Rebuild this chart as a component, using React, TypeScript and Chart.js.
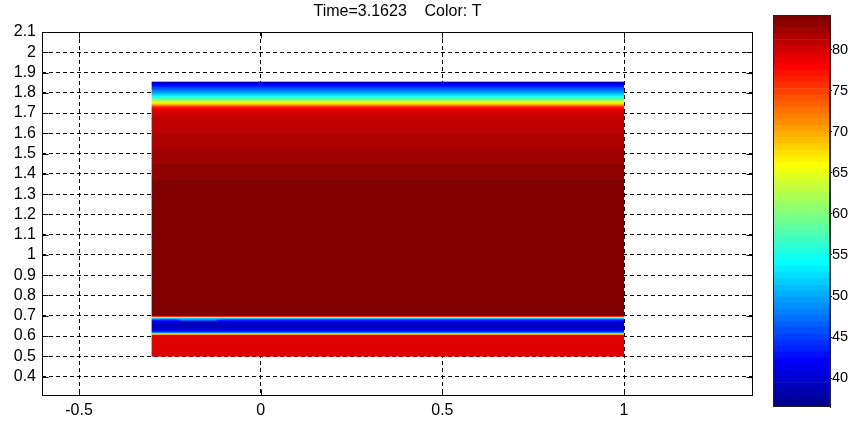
import { useEffect, useRef } from "react";
import { Chart, registerables } from "chart.js";

Chart.register(...registerables);

const FONT = "'Liberation Sans', Arial, Helvetica, sans-serif";

const TITLE = "Time=3.1623    Color: T";

// axis limits and ticks of the solution plot
const X_LIMITS = [-0.602, 1.355];
const Y_LIMITS = [0.304, 2.1];
const X_TICKS = [-0.5, 0, 0.5, 1];
const Y_TICKS = [0.4, 0.5, 0.6, 0.7, 0.8, 0.9, 1, 1.1, 1.2, 1.3, 1.4, 1.5, 1.6, 1.7, 1.8, 1.9, 2, 2.1];

// horizontal extent of the domain
const DOMAIN_X = [-0.3, 1];

// temperature T sampled along y, bottom to top
const PROFILE_Y = [
  0.5, 0.603, 0.607, 0.612, 0.618, 0.626, 0.64, 0.66, 0.675, 0.682, 0.687, 0.691, 0.695, 0.699,
  0.72, 0.9, 1.3, 1.4, 1.5, 1.6, 1.7, 1.72, 1.73, 1.74, 1.75, 1.765, 1.78, 1.8, 1.82, 1.84, 1.855,
];
const PROFILE_T = [
  79, 79, 72, 58, 47, 42, 39, 39, 42, 46, 53, 62, 72, 83.5,
  84, 84, 84, 83.2, 82.2, 81.2, 80.3, 79, 76, 71, 66, 60, 55, 50, 46, 42, 38.5,
];

// warmer patch on the upper edge of the cold layer, near the left side
const PATCH_X = [-0.222, -0.121];
const PATCH_Y = [0.666, 0.672, 0.678, 0.684, 0.689];
const PATCH_T = [39, 43, 47, 50, 53];

// colour axis
const T_LIMITS = [36.5, 84.2];
const CBAR_TICKS = [40, 45, 50, 55, 60, 65, 70, 75, 80];
const CMAP_SIZE = 64;

// MATLAB-style jet(m) colormap
function jet(m: number): number[][] {
  const n = Math.ceil(m / 4);
  const u: number[] = [];
  for (let i = 1; i <= n; i++) u.push(i / n);
  for (let i = 1; i < n; i++) u.push(1);
  for (let i = n; i >= 1; i--) u.push(i / n);
  const g0 = Math.ceil(n / 2) - (m % 4 === 1 ? 1 : 0);
  const J = Array.from({ length: m }, () => [0, 0, 0]);
  for (let k = 0; k < u.length; k++) {
    const g = g0 + k + 1;
    const r = g + n;
    const b = g - n;
    if (r >= 1 && r <= m) J[r - 1][0] = u[k];
    if (g >= 1 && g <= m) J[g - 1][1] = u[k];
    if (b >= 1 && b <= m) J[b - 1][2] = u[k];
  }
  return J;
}

const CMAP = jet(CMAP_SIZE).map(
  (c) => `rgb(${Math.round(c[0] * 255)},${Math.round(c[1] * 255)},${Math.round(c[2] * 255)})`
);

function colorForT(t: number): string {
  const f = (t - T_LIMITS[0]) / (T_LIMITS[1] - T_LIMITS[0]);
  const i = Math.min(CMAP_SIZE - 1, Math.max(0, Math.floor(f * CMAP_SIZE)));
  return CMAP[i];
}

function interp(ys: number[], ts: number[], yv: number): number {
  if (yv <= ys[0]) return ts[0];
  for (let i = 1; i < ys.length; i++) {
    if (yv <= ys[i]) {
      const s = (yv - ys[i - 1]) / (ys[i] - ys[i - 1]);
      return ts[i - 1] + s * (ts[i] - ts[i - 1]);
    }
  }
  return ts[ts.length - 1];
}

const fmt = (v: number) => String(+Number(v).toFixed(2));

// shaded temperature field, rendered row by row through the chart scales
const fieldPlugin = {
  id: "field",
  beforeDatasetsDraw(chart: any) {
    const { ctx, scales } = chart;
    const xs = scales.x;
    const ys = scales.y;
    const x0 = xs.getPixelForValue(DOMAIN_X[0]);
    const x1 = xs.getPixelForValue(DOMAIN_X[1]);
    const px0 = xs.getPixelForValue(PATCH_X[0]);
    const px1 = xs.getPixelForValue(PATCH_X[1]);
    const top = ys.getPixelForValue(PROFILE_Y[PROFILE_Y.length - 1]);
    const bot = ys.getPixelForValue(PROFILE_Y[0]);
    ctx.save();
    for (let p = Math.floor(top); p < Math.ceil(bot); p++) {
      const a = Math.max(p, top);
      const b = Math.min(p + 1, bot);
      const h = b - a + (b < bot ? 0.5 : 0);
      const v = ys.getValueForPixel((a + b) / 2);
      ctx.fillStyle = colorForT(interp(PROFILE_Y, PROFILE_T, v));
      ctx.fillRect(x0, a, x1 - x0, h);
      if (v >= PATCH_Y[0] && v <= PATCH_Y[PATCH_Y.length - 1]) {
        ctx.fillStyle = colorForT(interp(PATCH_Y, PATCH_T, v));
        ctx.fillRect(px0, a, px1 - px0, h);
      }
    }
    ctx.restore();
  },
};

// closed axes box with inward tick marks
const axesBoxPlugin = {
  id: "axesBox",
  afterDraw(chart: any) {
    const { ctx, chartArea: a, scales } = chart;
    const L = Math.round(a.left) + 0.5;
    const R = Math.round(a.right) - 0.5;
    const T = Math.round(a.top) + 0.5;
    const B = Math.round(a.bottom) - 0.5;
    ctx.save();
    ctx.strokeStyle = "#000";
    ctx.lineWidth = 1;
    ctx.setLineDash([]);
    ctx.strokeRect(L, T, R - L, B - T);
    ctx.beginPath();
    for (const v of Y_TICKS) {
      const py = Math.round(scales.y.getPixelForValue(v)) + 0.5;
      ctx.moveTo(L, py);
      ctx.lineTo(L + 6, py);
      ctx.moveTo(R, py);
      ctx.lineTo(R - 6, py);
    }
    for (const v of X_TICKS) {
      const px = Math.round(scales.x.getPixelForValue(v)) + 0.5;
      ctx.moveTo(px, B);
      ctx.lineTo(px, B - 6);
      ctx.moveTo(px, T);
      ctx.lineTo(px, T + 6);
    }
    ctx.stroke();
    ctx.restore();
  },
};

const cbarBoxPlugin = {
  id: "cbarBox",
  afterDraw(chart: any) {
    const { ctx, chartArea: a } = chart;
    ctx.save();
    ctx.strokeStyle = "#222";
    ctx.lineWidth = 1;
    ctx.strokeRect(Math.round(a.left) + 0.5, Math.round(a.top) + 0.5, Math.round(a.right - a.left) - 1, Math.round(a.bottom - a.top) - 1);
    ctx.restore();
  },
};

export default function App() {
  const mainRef = useRef<HTMLCanvasElement>(null);
  const cbarRef = useRef<HTMLCanvasElement>(null);

  useEffect(() => {
    const tickFont = { family: FONT, size: 16 };
    const main = new Chart(mainRef.current as HTMLCanvasElement, {
      type: "scatter",
      data: { datasets: [] },
      options: {
        responsive: false,
        animation: false,
        devicePixelRatio: 1,
        layout: { padding: { left: 0, right: 7, top: 0, bottom: 0 } },
        plugins: {
          legend: { display: false },
          tooltip: { enabled: false },
          title: {
            display: true,
            text: TITLE,
            fullSize: false,
            color: "#000",
            font: { family: FONT, size: 16, weight: "normal" },
            padding: { top: 2.4, bottom: 10.4 },
          },
        },
        scales: {
          x: {
            type: "linear",
            min: X_LIMITS[0],
            max: X_LIMITS[1],
            afterBuildTicks: (s: any) => {
              s.ticks = X_TICKS.map((value) => ({ value }));
            },
            afterFit: (s: any) => {
              s.height = 27;
            },
            grid: { color: "#000", lineWidth: 1, drawTicks: false },
            border: { display: false, dash: [4, 3] },
            ticks: { color: "#000", font: tickFont, padding: 5, maxRotation: 0, autoSkip: false, callback: (v: any) => fmt(v) },
          },
          y: {
            type: "linear",
            min: Y_LIMITS[0],
            max: Y_LIMITS[1],
            afterBuildTicks: (s: any) => {
              s.ticks = Y_TICKS.map((value) => ({ value }));
            },
            afterFit: (s: any) => {
              s.width = 42;
            },
            grid: { color: "#000", lineWidth: 1, drawTicks: false },
            border: { display: false, dash: [4, 3] },
            ticks: { color: "#000", font: tickFont, padding: 6, autoSkip: false, callback: (v: any) => fmt(v) },
          },
        },
      },
      plugins: [fieldPlugin, axesBoxPlugin],
    } as any);

    // colour bar: one floating bar per colormap entry
    const step = (T_LIMITS[1] - T_LIMITS[0]) / CMAP_SIZE;
    const cbarSets = CMAP.map((color, i) => ({
      data: [[T_LIMITS[0] + i * step, T_LIMITS[0] + (i + 1) * step]],
      backgroundColor: color,
      borderWidth: 0,
      grouped: false,
      barPercentage: 1,
      categoryPercentage: 1,
    }));

    const cbar = new Chart(cbarRef.current as HTMLCanvasElement, {
      type: "bar",
      data: { labels: [""], datasets: cbarSets },
      options: {
        responsive: false,
        animation: false,
        devicePixelRatio: 1,
        layout: { padding: { left: 13, right: 0, top: 15, bottom: 16 } },
        plugins: { legend: { display: false }, tooltip: { enabled: false }, title: { display: false } },
        scales: {
          x: { display: false },
          y: {
            type: "linear",
            position: "right",
            min: T_LIMITS[0],
            max: T_LIMITS[1],
            afterBuildTicks: (s: any) => {
              s.ticks = CBAR_TICKS.map((value) => ({ value }));
            },
            afterFit: (s: any) => {
              s.width = 18;
            },
            grid: { drawOnChartArea: false, drawTicks: true, tickLength: 2, color: "#000" },
            border: { display: true, color: "#222" },
            ticks: { color: "#000", font: { family: FONT, size: 14.5 }, padding: 0, autoSkip: false, callback: (v: any) => fmt(v) },
          },
        },
      },
      plugins: [cbarBoxPlugin],
    } as any);

    return () => {
      main.destroy();
      cbar.destroy();
    };
  }, []);

  return (
    <div style={{ position: "fixed", left: 0, top: 0, width: 848, height: 423, background: "#fff" }}>
      <canvas ref={mainRef} width={760} height={423} style={{ position: "absolute", left: 0, top: 0, width: 760, height: 423 }} />
      <canvas ref={cbarRef} width={88} height={423} style={{ position: "absolute", left: 760, top: 0, width: 88, height: 423 }} />
    </div>
  );
}
